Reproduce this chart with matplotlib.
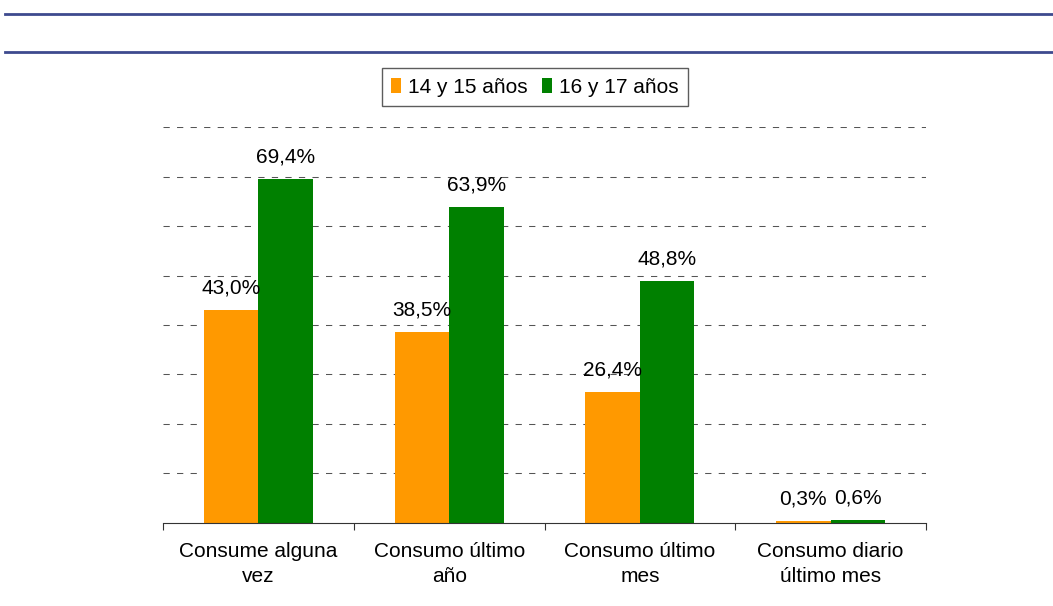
import matplotlib.pyplot as plt
from matplotlib.lines import Line2D
import numpy as np

plt.rcParams['font.family'] = ['Liberation Sans', 'DejaVu Sans']

categories = ['Consume alguna\nvez', 'Consumo último\naño', 'Consumo último\nmes', 'Consumo diario\núltimo mes']
series_names = ['14 y 15 años', '16 y 17 años']
values_14_15 = [43.0, 38.5, 26.4, 0.3]
values_16_17 = [69.4, 63.9, 48.8, 0.6]
colors = ['#ff9900', '#008000']


def format_ax(ax):
    ax.set_xlim(-0.5, len(categories) - 0.5)
    ax.set_ylim(0, 80)
    ax.set_yticks(np.arange(10, 81, 10))
    ax.tick_params(axis='y', length=0, labelleft=False)
    ax.yaxis.grid(True, linestyle=(0, (6, 7)), linewidth=0.75, color='#555555')
    ax.set_axisbelow(True)

    # category labels at centres, tick marks on the boundaries
    ax.set_xticks(np.arange(len(categories)))
    ax.set_xticklabels(categories, fontsize=15, linespacing=1.4)
    ax.tick_params(axis='x', which='major', length=0, pad=14)
    ax.set_xticks(np.arange(-0.5, len(categories), 1), minor=True)
    ax.tick_params(axis='x', which='minor', length=5, width=0.8, color='#333333')

    for s in ['top', 'right', 'left']:
        ax.spines[s].set_visible(False)
    ax.spines['bottom'].set_color('#333333')
    ax.spines['bottom'].set_linewidth(0.8)


def main():
    fig = plt.figure(figsize=(10.53, 6.06), dpi=100)
    ax = fig.add_axes([0.1548, 0.137, 0.7246, 0.6534])

    x = np.arange(len(categories))
    w = 0.286
    bars = []
    for off, vals, c, name in [(-w / 2, values_14_15, colors[0], series_names[0]),
                               (w / 2, values_16_17, colors[1], series_names[1])]:
        b = ax.bar(x + off, vals, width=w, color=c, label=name, zorder=2)
        bars.append(b)
        for xi, v in zip(x + off, vals):
            ax.annotate(f'{v:.1f}%'.replace('.', ','), (xi, v), xytext=(0, 12),
                        textcoords='offset points', ha='center', va='baseline',
                        fontsize=15)

    format_ax(ax)

    fig.legend(handles=bars, labels=series_names, loc='center',
               bbox_to_anchor=(0.508, 0.856), ncol=2, fontsize=15,
               frameon=True, fancybox=False, edgecolor='#333333',
               handlelength=0.45, handleheight=0.7, handletextpad=0.35,
               columnspacing=0.7, borderpad=0.45, borderaxespad=0)
    fig.legends[0].get_frame().set_linewidth(1.0)

    # header rules
    for yy in [1 - 14 / 606, 1 - 52 / 606]:
        fig.add_artist(Line2D([0.005, 1.0], [yy, yy], color='#3d4a8e',
                              linewidth=2, transform=fig.transFigure))

    fig.savefig('out.png', dpi=100)


if __name__ == '__main__':
    main()
